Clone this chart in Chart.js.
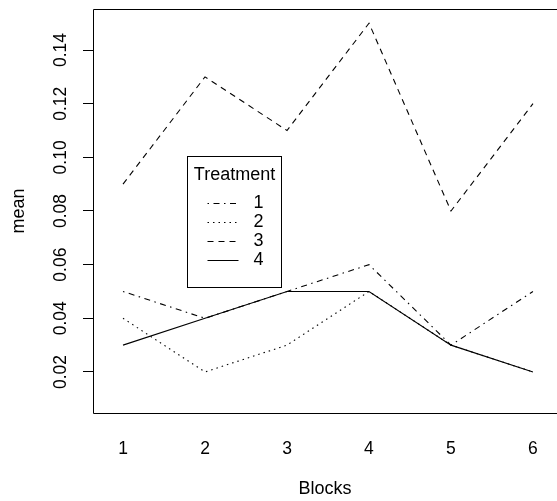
<!DOCTYPE html>
<html>
<head>
<meta charset="utf-8">
<script src="https://cdn.jsdelivr.net/npm/chart.js@4"></script>
<style>
  html, body { margin: 0; padding: 0; background: #fff; overflow: hidden; }
  #wrap { width: 557px; height: 501px; }
</style>
</head>
<body>
<div id="wrap"><canvas id="chart-interaction"></canvas></div>
<script>
  var blocks = [1, 2, 3, 4, 5, 6];
  var treatments = ["1", "2", "3", "4"];
  var mean1 = [0.05, 0.04, 0.05, 0.06, 0.03, 0.05];
  var mean2 = [0.04, 0.02, 0.03, 0.05, 0.03, 0.02];
  var mean3 = [0.09, 0.13, 0.11, 0.15, 0.08, 0.12];
  var mean4 = [0.03, 0.04, 0.05, 0.05, 0.03, 0.02];
  var yTicks = [0.02, 0.04, 0.06, 0.08, 0.10, 0.12, 0.14];

  var FONT = "'Liberation Sans', Arial, Helvetica, sans-serif";
  var dashes = [[1.5, 4.5, 6, 4.5], [1.5, 4], [6, 5], []];

  function pts(vals) {
    return vals.map(function (v, i) { return { x: blocks[i], y: v }; });
  }

  var seriesVals = [mean1, mean2, mean3, mean4];

  // box around the plot region: left, top and bottom only, the right side runs off the canvas
  var frame = {
    id: "frame",
    afterDraw: function (chart) {
      var a = chart.chartArea, ctx = chart.ctx;
      var l = Math.round(a.left) + 0.5, t = Math.round(a.top) + 0.5, b = Math.round(a.bottom) + 0.5;
      ctx.save();
      ctx.strokeStyle = "#000";
      ctx.lineWidth = 1;
      ctx.beginPath();
      ctx.moveTo(chart.width + 5, t);
      ctx.lineTo(l, t);
      ctx.lineTo(l, b);
      ctx.lineTo(chart.width + 5, b);
      ctx.stroke();
      ctx.restore();
    },
  };

  // R style legend with a title, anchored in data coordinates
  var rLegend = {
    id: "rLegend",
    afterDraw: function (chart) {
      var xs = chart.scales.x, ys = chart.scales.y, ctx = chart.ctx;
      var left = Math.round(xs.getPixelForValue(1.78)) + 0.5;
      var top = Math.round(ys.getPixelForValue(0.1005)) + 0.5;
      var w = 94, h = 131;
      ctx.save();
      ctx.fillStyle = "#fff";
      ctx.fillRect(left, top, w, h);
      ctx.strokeStyle = "#000";
      ctx.lineWidth = 1;
      ctx.strokeRect(left, top, w, h);
      ctx.fillStyle = "#000";
      ctx.font = "18px " + FONT;
      ctx.textBaseline = "middle";
      ctx.textAlign = "center";
      ctx.fillText("Treatment", left + w / 2, top + 19);
      ctx.textAlign = "left";
      for (var i = 0; i < treatments.length; i++) {
        var yy = top + 46 + i * 19;
        ctx.beginPath();
        ctx.setLineDash(dashes[i]);
        ctx.moveTo(left + 20, Math.round(yy) + 0.5);
        ctx.lineTo(left + 51, Math.round(yy) + 0.5);
        ctx.stroke();
        ctx.setLineDash([]);
        ctx.fillText(treatments[i], left + 66, yy + 1);
      }
      ctx.restore();
    },
  };

  new Chart(document.getElementById("chart-interaction"), {
    type: "line",
    data: {
      datasets: seriesVals.map(function (vals, i) {
        return {
          label: treatments[i],
          data: pts(vals),
          borderColor: "#000",
          borderWidth: 1.1,
          borderDash: dashes[i],
          pointRadius: 0,
          tension: 0,
          fill: false,
        };
      }),
    },
    options: {
      responsive: true,
      maintainAspectRatio: false,
      animation: false,
      layout: { padding: { top: 9, right: 0, left: 0, bottom: 0 } },
      plugins: { legend: { display: false }, tooltip: { enabled: false } },
      scales: {
        x: {
          type: "linear",
          min: 0.634,
          max: 6.293,
          afterBuildTicks: function (s) {
            s.ticks = blocks.map(function (b) { return { value: b }; });
          },
          afterFit: function (s) {
            s.height = 88;
            s.paddingLeft = 0;
            s.paddingRight = 0;
          },
          grid: { display: false, drawTicks: false },
          border: { display: false },
          ticks: {
            color: "#000",
            padding: 26,
            maxRotation: 0,
            font: { family: FONT, size: 17.5 },
            callback: function (v) { return String(v); },
          },
          title: {
            display: true,
            text: "Blocks",
            color: "#000",
            font: { family: FONT, size: 18 },
            padding: { top: 0, bottom: 1 },
          },
        },
        y: {
          type: "linear",
          min: 0.0047,
          max: 0.1553,
          afterBuildTicks: function (s) {
            s.ticks = yTicks.map(function (v) { return { value: v }; });
          },
          afterFit: function (s) {
            s.width = 93;
            s.paddingTop = 0;
            s.paddingBottom = 0;
          },
          grid: { drawOnChartArea: false, drawTicks: true, tickLength: 10, color: "#000", lineWidth: 1 },
          border: { display: false },
          ticks: {
            color: "#000",
            padding: 5,
            minRotation: 90,
            maxRotation: 90,
            crossAlign: "center",
            font: { family: FONT, size: 17.5 },
            callback: function (v) { return Number(v).toFixed(2); },
          },
          title: {
            display: true,
            text: "mean",
            color: "#000",
            font: { family: FONT, size: 18 },
            padding: { top: 8, bottom: 0 },
          },
        },
      },
    },
    plugins: [frame, rLegend],
  });
</script>
</body>
</html>
